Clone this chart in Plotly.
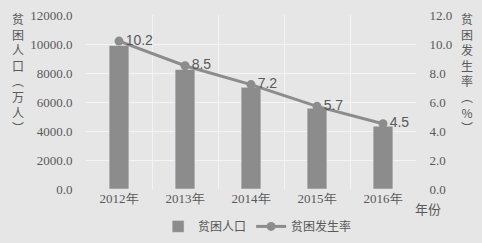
import plotly.graph_objects as go

years = ["2012年", "2013年", "2014年", "2015年", "2016年"]
poverty_pop = [9899, 8249, 7017, 5575, 4335]
poverty_rate = [10.2, 8.5, 7.2, 5.7, 4.5]
left_ticks = [0, 2000, 4000, 6000, 8000, 10000, 12000]
right_ticks = [0, 2, 4, 6, 8, 10, 12]

bg = "#e6e6e6"
grid = "#f4f4f4"
gray = "#8c8c8c"
txt = "#595959"
serif = "Liberation Serif, Times New Roman, serif"
cjk = "Noto Sans CJK SC"

fig = go.Figure()
fig.add_trace(go.Bar(x=years, y=poverty_pop, name="贫困人口", marker_color=gray,
                     width=0.3, yaxis="y"))
fig.add_trace(go.Scatter(x=years, y=poverty_rate, name="贫困发生率", yaxis="y2",
                         mode="lines+markers+text", line=dict(color=gray, width=3),
                         marker=dict(size=9, color=gray),
                         text=[f"{v:.1f}" for v in poverty_rate], textposition="middle right",
                         textfont=dict(size=14, color=txt, family="Liberation Sans, Arial")))

fig.update_layout(
    width=482, height=243,
    margin=dict(l=86, r=66, t=15, b=54, autoexpand=False),
    paper_bgcolor=bg, plot_bgcolor=bg,
    showlegend=True,
    legend=dict(orientation="h", x=0.52, xanchor="center", y=-0.215, yanchor="middle",
                font=dict(family=cjk, size=12, color=txt), bgcolor="rgba(0,0,0,0)",
                itemwidth=30, tracegroupgap=0),
    xaxis=dict(type="category", tickson="boundaries", showgrid=True, gridcolor=grid,
               gridwidth=1, ticks="outside", ticklen=11, tickcolor="rgba(0,0,0,0)",
               showline=False, zeroline=False,
               tickfont=dict(family=serif, size=13, color=txt)),
    yaxis=dict(range=[0, 12000], tickvals=left_ticks,
               ticktext=[f"{v:.1f}" for v in left_ticks], showgrid=True,
               gridcolor=grid, zeroline=False, ticks="outside", ticklen=10,
               tickcolor="rgba(0,0,0,0)",
               tickfont=dict(family=serif, size=13, color=txt)),
    yaxis2=dict(range=[0, 12], tickvals=right_ticks,
                ticktext=[f"{v:.1f}" for v in right_ticks], overlaying="y",
                side="right", showgrid=False, zeroline=False, ticks="outside",
                ticklen=10, tickcolor="rgba(0,0,0,0)",
                tickfont=dict(family=serif, size=13, color=txt)),
    annotations=[
        dict(text="<br>".join(list("贫困人口")) + "<br>︵<br>万<br>人<br>︶",
             xref="paper", yref="paper", x=-0.206, y=1.04, xanchor="center",
             yanchor="top", showarrow=False, align="center",
             font=dict(family=cjk, size=12, color=txt)),
        dict(text="<br>".join(list("贫困发生率")) + "<br>︵<br>%<br>︶",
             xref="paper", yref="paper", x=1.155, y=1.04, xanchor="center",
             yanchor="top", showarrow=False, align="center",
             font=dict(family=cjk, size=12, color=txt)),
        dict(text="年份", xref="paper", yref="paper", x=1.036, y=-0.11,
             xanchor="center", yanchor="middle", showarrow=False,
             font=dict(family=cjk, size=13, color=txt)),
    ],
)

fig.write_html("out.html")
